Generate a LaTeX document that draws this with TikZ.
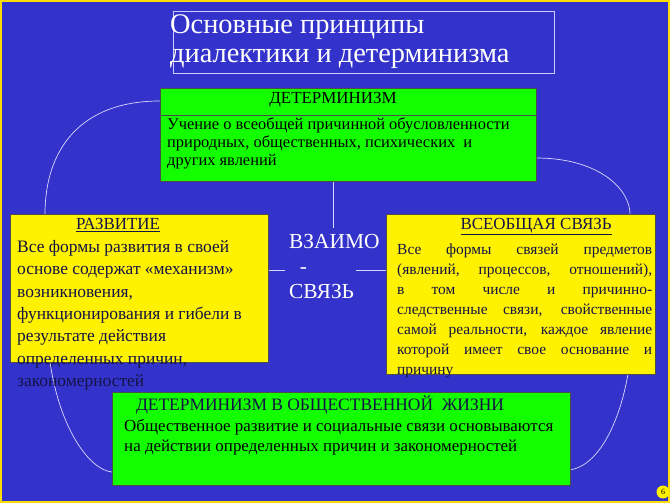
\documentclass[tikz,border=0pt]{standalone}
\usepackage{fontspec}
\setmainfont{Liberation Serif}
\begin{document}
\begin{tikzpicture}[x=1bp,y=-1bp,
  bx/.style={draw=black!70,line width=0.8bp,inner sep=0pt},
  gbox/.style={bx,fill=green!90!lime},
  ybox/.style={bx,fill=yellow},
  ln/.style={draw=white!85!blue,line width=0.7bp},
  body/.style={font=\fontsize{16.5}{18}\selectfont,align=left,anchor=north west,inner sep=0pt},
  head/.style={font=\fontsize{17}{19}\selectfont,anchor=north,inner sep=0pt}]
\definecolor{bg}{RGB}{51,51,204}
\definecolor{navy}{RGB}{20,20,70}
\fill[yellow!80!orange] (0,0) rectangle (670,503);
\fill[bg] (2,2) rectangle (668,501);
\useasboundingbox (0,0) rectangle (670,503);
% title
\node[draw=white!80!blue,line width=0.6bp,minimum width=381bp,minimum height=62bp,anchor=north west] (tbox) at (173,11) {};
\node[anchor=north west,inner sep=0pt,text=white,font=\fontsize{28.5}{29}\selectfont,align=left] (title) at (170,15) {Основные принципы\\диалектики и детерминизма};
\coordinate (la) at (45,214); \coordinate (ra) at (630,214);
\coordinate (lb) at (50,362); \coordinate (rb) at (628,374);
\coordinate (vb) at (333,228);
\draw[ln] (160,101) .. controls (80,101) and (45,150) .. (la);
\draw[ln] (536,158) .. controls (600,158) and (630,190) .. (ra);
\draw[ln] (lb) .. controls (60,430) and (90,470) .. (112,472);
\draw[ln] (rb) .. controls (620,420) and (600,465) .. (570,470);
\draw[ln] (333,181) -- (vb);
\draw[ln] (268,270) -- (285,270);
\draw[ln] (356,270) -- (386,270);
\node[gbox,minimum width=376bp,minimum height=93bp,anchor=north west] (det) at (160,88) {};
\node[ybox,minimum width=258bp,minimum height=148bp,anchor=north west] (dev) at (10,214) {};
\node[ybox,minimum width=269bp,minimum height=160bp,anchor=north west] (con) at (386,214) {};
\node[gbox,minimum width=458bp,minimum height=93bp,anchor=north west] (soc) at (112,392) {};
\draw[black!70,line width=0.6bp] (det.west|-0,115) -- (det.east|-0,115);
\node[head] (dh) at (333,92) {ДЕТЕРМИНИЗМ};
\node[body] (dt) at (167,118) {Учение о всеобщей причинной обусловленности\\природных, общественных, психических\ \ и\\других явлений};
\node[head,text=navy] (rh) at (118,218) {\underline{РАЗВИТИЕ}};
\node[body,text=navy,font=\fontsize{17.5}{22.5}\selectfont] (rt) at (17,240) {Все формы развития в своей\\основе содержат «механизм»\\возникновения,\\функционирования и гибели в\\результате действия\\определенных причин,\\закономерностей};
\node[head,text=navy] (vh) at (536,218) {\underline{ВСЕОБЩАЯ СВЯЗЬ}};
\node[body,text=navy,text width=255bp,align=justify,font=\fontsize{15.5}{20}\selectfont] (vt) at (397,244) {Все формы связей предметов\linebreak (явлений, процессов, отношений),\linebreak в том числе и причинно-\linebreak следственные связи, свойственные\linebreak самой реальности, каждое явление\linebreak которой имеет свое основание и\linebreak причину};
\node[anchor=north west,inner sep=0pt,text=white,font=\fontsize{21.5}{25}\selectfont,align=left] (vz) at (289,234) {ВЗАИМО\\\ \ -\\СВЯЗЬ};
\node[head,text=navy,font=\fontsize{17.5}{19}\selectfont] (sh) at (320,396) {ДЕТЕРМИНИЗМ В ОБЩЕСТВЕННОЙ\ \ ЖИЗНИ};
\node[body,font=\fontsize{17}{20}\selectfont] (st) at (124,419) {Общественное развитие и социальные связи основываются\\на действии определенных причин и закономерностей};
\node[circle,fill=yellow,inner sep=0pt,minimum size=13bp,font=\fontsize{8}{8}\selectfont] (pg) at (663,492) {6};
\end{tikzpicture}
\end{document}
